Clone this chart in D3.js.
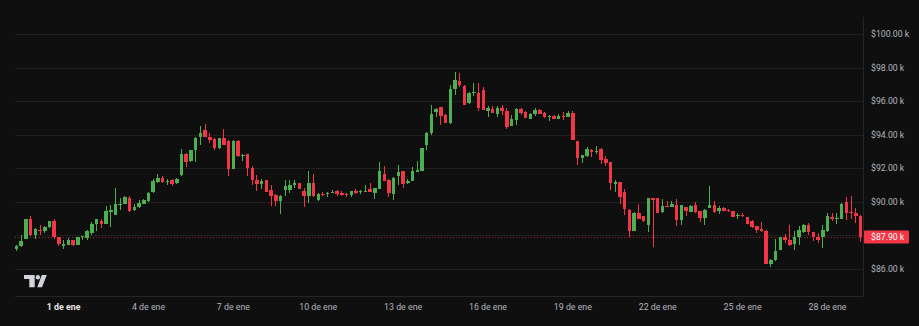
<!DOCTYPE html>
<html>
<head>
<meta charset="utf-8">
<script src="https://cdn.jsdelivr.net/npm/d3@7"></script>
<style>
html,body{margin:0;padding:0;background:#0f0f0f;}
svg{display:block;}
</style>
</head>
<body>
<svg id="chart" width="919" height="326"></svg>
<script>
// 4-hour candles, BTC/USD in thousands of dollars
const startTime = new Date(Date.UTC(2025, 11, 30, 8, 0));
const endTime = new Date(Date.UTC(2026, 0, 29, 4, 0));

const open = [
87.20,87.34,87.79,88.97,88.03,88.33,88.27,88.47,88.87,87.90,
87.34,87.44,87.72,87.44,87.90,87.84,88.13,88.69,88.83,88.69,
89.36,89.21,89.86,89.88,90.24,89.48,89.66,89.88,90.02,90.58,
91.15,91.41,91.23,91.31,91.09,91.57,92.86,92.44,93.06,93.89,
94.29,93.89,93.75,93.18,93.80,93.64,91.97,93.64,92.70,92.82,
92.04,91.31,91.07,91.29,90.72,90.42,90.02,90.72,90.72,90.97,
91.11,90.66,90.32,91.11,90.12,90.48,90.48,90.52,90.64,90.55,
90.48,90.38,90.66,90.60,90.60,90.77,90.55,90.77,91.67,91.31,
90.48,91.51,91.81,91.11,91.25,91.77,91.85,93.40,94.09,95.36,
95.64,95.19,94.67,96.72,97.21,96.91,95.88,96.50,96.50,96.68,
95.44,95.54,95.26,95.62,95.41,94.51,94.89,95.54,95.36,94.95,
95.23,95.50,95.29,95.11,95.14,94.95,95.14,95.05,95.32,93.62,
92.60,92.70,93.06,93.00,93.12,92.54,92.37,91.05,91.15,90.61,
89.52,88.27,89.33,89.12,88.63,90.22,90.22,89.36,89.76,89.68,
89.82,88.89,89.68,89.39,89.82,89.42,89.06,89.62,89.82,89.42,
89.62,89.48,89.42,89.12,89.21,89.09,88.83,88.53,88.37,88.27,
86.30,86.50,87.14,87.87,87.74,87.50,87.90,88.17,88.63,88.19,
87.90,87.90,88.23,89.09,88.97,88.97,89.96,89.40,89.33,89.17
];
const high = [
87.44,88.03,89.00,89.17,88.45,88.63,88.57,88.87,89.00,87.91,
87.69,87.84,87.74,87.91,87.97,88.33,88.81,88.99,88.97,89.76,
89.82,90.79,90.24,90.33,90.36,89.88,90.12,90.16,90.60,91.35,
91.65,91.55,91.35,91.34,91.40,93.16,92.89,93.10,93.87,94.49,
94.65,94.13,93.78,93.81,94.33,93.67,93.67,93.67,92.84,92.84,
92.15,91.61,91.35,91.31,91.01,90.45,90.39,91.31,91.31,91.31,
91.13,90.79,91.85,91.67,90.51,90.61,90.57,90.72,90.72,90.66,
90.51,90.67,90.76,90.72,91.01,91.11,90.80,92.40,92.16,91.34,
91.46,92.21,91.85,91.37,92.10,92.44,93.22,94.17,95.78,95.57,
95.66,95.22,96.97,97.73,97.67,96.94,96.53,97.07,97.07,96.87,
95.74,95.74,95.74,95.78,95.62,95.19,95.57,95.57,95.39,95.27,
95.58,95.52,95.38,95.19,95.16,95.23,95.38,95.42,95.42,93.64,
92.77,93.26,93.16,93.30,93.20,92.74,92.38,91.31,91.16,90.77,
89.55,89.37,89.88,89.14,90.24,90.24,90.24,90.16,90.02,90.02,
90.16,89.79,89.70,89.79,89.96,89.43,89.55,90.91,90.02,89.72,
89.68,89.56,89.43,89.33,89.33,89.11,88.93,88.54,88.79,88.30,
86.57,87.79,87.91,88.07,88.59,88.27,88.53,88.69,88.73,88.21,
88.13,88.59,89.33,89.33,89.33,89.91,90.28,90.32,89.62,89.20
];
const low = [
87.04,87.29,87.76,87.97,87.79,88.03,88.15,88.43,87.78,87.34,
87.18,87.41,87.34,87.41,87.69,87.69,88.03,88.27,88.41,88.66,
88.47,89.20,89.52,89.85,89.40,89.42,89.64,89.85,90.00,90.55,
91.13,91.13,91.00,90.91,91.07,91.55,92.10,92.40,92.40,93.36,
93.87,93.53,93.10,93.16,93.36,91.51,91.94,92.68,92.46,91.51,
91.00,90.67,90.77,90.60,89.72,89.72,89.27,90.32,90.52,90.82,
90.74,89.66,89.92,90.30,90.06,90.32,90.26,90.51,90.36,90.36,
90.26,90.30,90.48,90.48,90.57,90.57,90.18,90.74,91.22,90.26,
90.10,90.97,90.82,91.07,91.22,91.76,91.82,93.10,93.99,95.05,
94.59,94.68,94.65,96.34,96.87,95.75,95.86,96.28,95.44,95.45,
95.08,95.30,95.08,95.19,94.33,94.50,94.59,95.19,95.00,94.92,
95.14,95.22,94.99,94.83,94.92,94.92,94.85,95.04,93.67,92.21,
92.34,92.68,92.66,92.84,92.26,92.15,90.72,90.60,89.86,89.23,
87.87,88.24,88.96,88.81,88.17,87.28,89.31,89.34,89.70,89.67,
88.53,88.63,89.12,89.37,89.33,88.77,88.63,89.61,89.34,89.28,
89.42,89.40,89.08,89.00,89.11,88.66,88.45,88.13,88.21,86.28,
86.08,86.48,87.11,87.54,87.34,87.14,87.44,88.15,88.03,87.63,
87.54,87.24,88.21,88.83,88.69,88.96,88.93,88.97,88.73,87.58
];
const close = [
87.38,87.68,88.96,88.03,88.39,88.30,88.51,88.83,87.90,87.50,
87.50,87.72,87.44,87.87,87.93,88.27,88.69,88.97,88.69,89.46,
89.52,89.88,89.88,90.28,89.42,89.68,89.92,90.08,90.55,91.25,
91.41,91.15,91.25,91.03,91.37,92.86,92.40,93.06,93.83,94.13,
93.89,93.70,93.22,93.80,93.38,91.97,93.64,92.70,92.80,92.04,
91.31,91.07,91.25,90.61,90.32,90.02,90.36,90.91,90.97,91.11,
90.77,90.32,91.11,90.32,90.48,90.42,90.54,90.60,90.48,90.42,
90.38,90.64,90.55,90.66,90.67,90.58,90.79,91.85,91.25,90.55,
91.43,91.75,91.07,91.21,91.81,91.91,93.20,94.13,95.24,95.52,
95.14,94.69,96.73,97.27,96.97,95.78,96.50,96.57,95.62,95.48,
95.58,95.32,95.62,95.41,94.47,94.95,95.54,95.32,95.02,95.24,
95.50,95.23,95.05,95.13,94.95,95.14,95.05,95.32,93.70,92.58,
92.76,93.12,92.94,93.04,92.50,92.31,91.11,91.17,90.30,89.58,
88.23,89.33,88.99,88.83,90.22,90.08,89.33,89.76,89.72,89.88,
88.89,89.78,89.42,89.76,89.39,89.06,89.52,89.82,89.36,89.62,
89.46,89.42,89.09,89.23,89.12,88.69,88.47,88.33,88.23,86.30,
86.54,87.04,87.90,87.74,87.44,87.90,88.29,88.59,88.19,87.87,
87.74,88.29,89.17,88.97,89.03,89.88,89.33,89.33,89.12,87.90
];
const xTickDays = [1, 4, 7, 10, 13, 16, 19, 22, 25, 28];
const xTickLabels = ["1 de ene","4 de ene","7 de ene","10 de ene","13 de ene","16 de ene","19 de ene","22 de ene","25 de ene","28 de ene"];
const yTicks = [86, 88, 90, 92, 94, 96, 98, 100];

const UP = "#4caf50", DOWN = "#f23645";
const svg = d3.select("#chart");
const W = 919, H = 326;
const plot = {left: 15, right: 863, top: 17, bottom: 296};

svg.append("rect").attr("width", W).attr("height", H).attr("fill", "#0f0f0f");

const times = d3.utcHour.every(4).range(startTime, d3.utcHour.offset(endTime, 1));
const candles = times.map((t, i) => ({t, o: open[i], h: high[i], l: low[i], c: close[i]}));

const x = d3.scaleUtc().domain([startTime, endTime]).range([16.5, 860.5]);
const y = d3.scaleLinear().domain([86, 100]).range([268.8, 34.1]);
const step = x(times[1]) - x(times[0]);
const bw = step * 0.74;

// grid
svg.append("g").selectAll("line").data(yTicks).join("line")
  .attr("x1", plot.left).attr("x2", plot.right)
  .attr("y1", d => Math.round(y(d)) + 0.5).attr("y2", d => Math.round(y(d)) + 0.5)
  .attr("stroke", "#1f1f1f").attr("stroke-width", 1);

// borders
svg.append("line").attr("x1", plot.left).attr("x2", plot.right)
  .attr("y1", plot.bottom + 0.5).attr("y2", plot.bottom + 0.5).attr("stroke", "#262626");
svg.append("line").attr("x1", plot.right + 0.5).attr("x2", plot.right + 0.5)
  .attr("y1", plot.top).attr("y2", plot.bottom).attr("stroke", "#262626");

// last price line
const last = close[close.length - 1];
svg.append("line").attr("x1", plot.left).attr("x2", plot.right)
  .attr("y1", Math.round(y(last)) + 0.5).attr("y2", Math.round(y(last)) + 0.5)
  .attr("stroke", DOWN).attr("stroke-opacity", 0.6).attr("stroke-dasharray", "1,2")
  .attr("shape-rendering", "crispEdges");

// candles
const g = svg.append("g").attr("shape-rendering", "crispEdges");
const cg = g.selectAll("g").data(candles).join("g");
cg.append("line")
  .attr("x1", d => x(d.t)).attr("x2", d => x(d.t))
  .attr("y1", d => y(d.h)).attr("y2", d => y(d.l))
  .attr("stroke", d => d.c >= d.o ? UP : DOWN).attr("stroke-width", 1);
cg.append("rect")
  .attr("x", d => x(d.t) - bw / 2).attr("width", bw)
  .attr("y", d => y(Math.max(d.o, d.c)))
  .attr("height", d => Math.max(1, Math.abs(y(d.o) - y(d.c))))
  .attr("fill", d => d.c >= d.o ? UP : DOWN);

// y axis labels
const font = "Roboto, 'Noto Sans', sans-serif";
const fmt = v => "$" + d3.format(".2f")(v) + " k";
svg.append("g").selectAll("text").data(yTicks.filter(v => Math.abs(y(v) - y(last)) > 10)).join("text")
  .attr("x", 871).attr("y", d => y(d)).attr("dy", "0.35em")
  .attr("fill", "#b2b5be").attr("font-family", font).attr("font-size", 8.7)
  .text(fmt);

// price label
svg.append("rect").attr("x", 864).attr("y", y(last) - 6.5).attr("width", 45).attr("height", 13)
  .attr("fill", DOWN).attr("rx", 1);
svg.append("text").attr("x", 871).attr("y", y(last)).attr("dy", "0.35em")
  .attr("fill", "#ffffff").attr("font-family", font).attr("font-size", 8.7)
  .text(fmt(last));

// x axis labels
const xTickDates = xTickDays.map(d => new Date(Date.UTC(2026, 0, d)));
svg.append("g").selectAll("text").data(xTickDates).join("text")
  .attr("x", d => x(d)).attr("y", 307).attr("dy", "0.35em")
  .attr("text-anchor", "middle")
  .attr("fill", (d, i) => i === 0 ? "#e6e6e6" : "#b2b5be")
  .attr("font-weight", (d, i) => i === 0 ? "bold" : "normal")
  .attr("font-family", font).attr("font-size", 8.8)
  .text((d, i) => xTickLabels[i]);

// TradingView logo
const logo = svg.append("g").attr("fill", "#d1d4dc");
logo.append("path").attr("d", "M24,275H34.7V287.3H29.3V279H24Z");
logo.append("circle").attr("cx", 37.9).attr("cy", 277.3).attr("r", 2.2);
logo.append("path").attr("d", "M41.8,275H46.8L42,287.3H37.2Z");
</script>
</body>
</html>
